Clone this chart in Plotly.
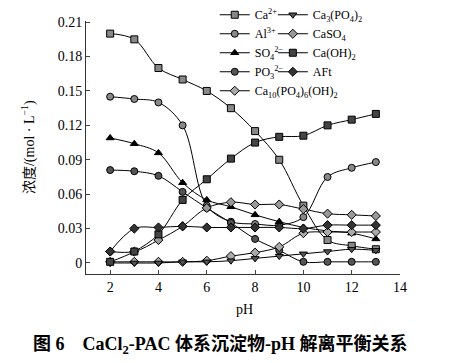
import plotly.graph_objects as go

pH = [2, 3, 4, 5, 6, 7, 8, 9, 10, 11, 12, 13]
ca = [0.200, 0.195, 0.170, 0.160, 0.150, 0.135, 0.115, 0.090, 0.050, 0.020, 0.015, 0.012]
al = [0.145, 0.143, 0.140, 0.120, 0.050, 0.036, 0.034, 0.033, 0.040, 0.075, 0.083, 0.088]
so4 = [0.109, 0.104, 0.096, 0.070, 0.055, 0.049, 0.042, 0.036, 0.031, 0.028, 0.026, 0.021]
po3 = [0.081, 0.080, 0.076, 0.062, 0.048, 0.035, 0.021, 0.011, 0.001, 0.001, 0.001, 0.001]
ca10 = [0.001, 0.001, 0.001, 0.001, 0.002, 0.006, 0.009, 0.014, 0.026, 0.027, 0.027, 0.027]
ca3po4 = [0.000, 0.000, 0.000, 0.001, 0.001, 0.002, 0.004, 0.006, 0.008, 0.010, 0.012, 0.011]
caso4 = [0.010, 0.010, 0.020, 0.032, 0.048, 0.053, 0.051, 0.051, 0.047, 0.043, 0.042, 0.041]
caoh2 = [0.001, 0.010, 0.025, 0.055, 0.073, 0.091, 0.105, 0.110, 0.111, 0.120, 0.125, 0.130]
aft = [0.010, 0.030, 0.031, 0.032, 0.031, 0.031, 0.031, 0.031, 0.030, 0.033, 0.033, 0.033]

y_ticks = [0, 0.03, 0.06, 0.09, 0.12, 0.15, 0.18, 0.21]
y_ticktext = ["0", "0.03", "0.06", "0.09", "0.12", "0.15", "0.18", "0.21"]
x_ticks = [2, 4, 6, 8, 10, 12, 14]

SERIF = "Liberation Serif"
FONT = "Liberation Serif, Noto Sans CJK SC"

series = [
    # name, data, symbol, fill, legend
    ("Ca<sup>2+</sup>", ca, "square", "#888888", "legend"),
    ("Al<sup>3+</sup>", al, "circle", "#888888", "legend"),
    ("SO<sub>4</sub><sup>2−</sup>", so4, "triangle-up", "black", "legend"),
    ("PO<sub>3</sub><sup>2−</sup>", po3, "circle", "#555555", "legend"),
    ("Ca<sub>10</sub>(PO<sub>4</sub>)<sub>6</sub>(OH)<sub>2</sub>", ca10, "diamond", "#aaaaaa", "legend"),
    ("Ca<sub>3</sub>(PO<sub>4</sub>)<sub>2</sub>", ca3po4, "triangle-down", "#555555", "legend2"),
    ("CaSO<sub>4</sub>", caso4, "diamond", "#999999", "legend2"),
    ("Ca(OH)<sub>2</sub>", caoh2, "square", "#444444", "legend2"),
    ("AFt", aft, "diamond", "#333333", "legend2"),
]

fig = go.Figure()
for name, vals, sym, fill, lg in series:
    fig.add_trace(go.Scatter(
        x=pH, y=vals, name=name, mode="lines+markers",
        line=dict(color="black", width=1, shape="spline", smoothing=1.0),
        marker=dict(symbol=sym, size=7, color=fill, line=dict(color="black", width=1)),
        legend=lg,
    ))

fig.update_layout(
    width=450, height=363,
    margin=dict(l=86, r=50, t=21, b=89, autoexpand=False),
    paper_bgcolor="white", plot_bgcolor="white",
    font=dict(family=SERIF, size=14, color="black"),
    showlegend=True,
    legend=dict(x=0.41, y=1.082, xanchor="left", yanchor="top",
                bgcolor="rgba(0,0,0,0)", font=dict(size=12, family=SERIF), itemwidth=30,
                tracegroupgap=0),
    legend2=dict(x=0.595, y=1.082, xanchor="left", yanchor="top",
                 bgcolor="rgba(0,0,0,0)", font=dict(size=12, family=SERIF), itemwidth=30,
                 tracegroupgap=0),
    xaxis=dict(range=[1, 14], tickvals=x_ticks, ticks="inside", ticklen=4,
               showline=True, linecolor="#333", linewidth=1, showgrid=False,
               zeroline=False, tickfont=dict(size=14, family=SERIF)),
    yaxis=dict(range=[-0.0096, 0.211], tickvals=y_ticks, ticktext=y_ticktext,
               ticks="inside", ticklen=4, showline=True, linecolor="#333",
               linewidth=1, showgrid=False, zeroline=False, tickfont=dict(size=14, family=SERIF)),
    annotations=[
        dict(text="pH", xref="paper", yref="paper", x=0.506, y=-0.142,
             xanchor="center", yanchor="middle", showarrow=False,
             font=dict(size=14, family=SERIF)),
        dict(text="浓度/(mol · L<sup>−1</sup>)", xref="paper", yref="paper",
             x=-0.183, y=0.5, xanchor="center", yanchor="middle", textangle=-90,
             showarrow=False, font=dict(size=14, family=FONT)),
        dict(text="<b>图 6　CaCl<sub>2</sub>-PAC 体系沉淀物-pH 解离平衡关系</b>",
             xref="paper", yref="paper", x=0.427, y=-0.28, xanchor="center",
             yanchor="middle", showarrow=False, font=dict(size=18, family=FONT)),
    ],
)

fig.write_html("out.html",
               config={"displayModeBar": False},
               post_script="document.body.style.margin='0';document.body.style.overflow='hidden';")
